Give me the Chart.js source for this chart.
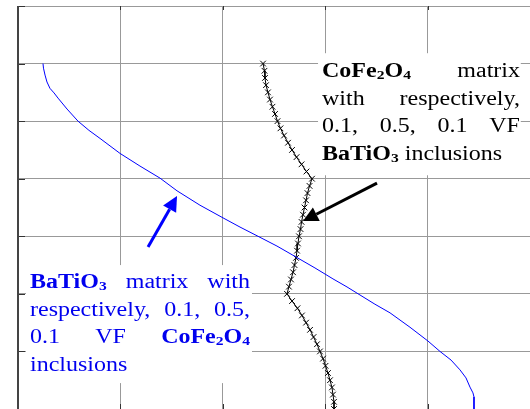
<!DOCTYPE html>
<html>
<head>
<meta charset="utf-8">
<script src="https://cdn.jsdelivr.net/npm/chart.js@4"></script>
<style>
  html, body { margin: 0; padding: 0; background: #fff; }
  #Chart { display: block; }
</style>
</head>
<body>
<canvas id="Chart" width="530" height="409"></canvas>
<script>
// position through the layered sample (grid units, bottom = 0) and the value
const blueDepth = [6.0, 5.92, 5.8, 5.68, 5.57, 5.49, 5.4, 5.21, 5.0, 4.84, 4.7, 4.44, 4.22, 4.01, 3.79,
  3.54, 3.32, 3.16, 3.0, 2.83, 2.64, 2.45, 2.26, 2.12, 1.98, 1.82, 1.67, 1.42, 1.18, 1.0, 0.85, 0.68,
  0.54, 0.38, 0.28, 0.21, 0.0];
const blueValue = [0.244, 0.249, 0.264, 0.283, 0.312, 0.352, 0.391, 0.479, 0.586, 0.693, 0.801, 0.996,
  1.191, 1.387, 1.553, 1.777, 2.002, 2.168, 2.344, 2.529, 2.715, 2.9, 3.076, 3.213, 3.34, 3.486, 3.633,
  3.828, 4.004, 4.121, 4.229, 4.316, 4.375, 4.414, 4.443, 4.453, 4.453];

const blackDepth = [6.0, 5.875, 5.75, 5.625, 5.5, 5.375, 5.25, 5.125, 5.0, 4.875, 4.75, 4.625, 4.5, 4.375,
  4.25, 4.125, 4.0, 3.875, 3.75, 3.625, 3.5, 3.375, 3.25, 3.125, 3.0, 2.875, 2.75, 2.625, 2.5, 2.375,
  2.25, 2.125, 2.0, 1.875, 1.75, 1.625, 1.5, 1.375, 1.25, 1.125, 1.0, 0.875, 0.75, 0.625, 0.5, 0.375,
  0.25, 0.125, 0.0];
const blackValue = [2.393, 2.407, 2.412, 2.422, 2.441, 2.461, 2.485, 2.51, 2.534, 2.563, 2.598, 2.637,
  2.676, 2.72, 2.769, 2.817, 2.871, 2.847, 2.827, 2.813, 2.798, 2.783, 2.769, 2.759, 2.744, 2.734, 2.725,
  2.715, 2.7, 2.686, 2.666, 2.646, 2.627, 2.676, 2.729, 2.773, 2.813, 2.852, 2.886, 2.92, 2.949, 2.979,
  3.003, 3.027, 3.047, 3.066, 3.076, 3.086, 3.086];

const xRange = [0, 5];
const yRange = [0, 7];

const blackNote = ["*CoFe_2O_4 matrix", "with respectively,", "0.1, 0.5, 0.1 VF", "*BaTiO_3 inclusions"];
const blueNote = ["*BaTiO_3 matrix with", "respectively, 0.1, 0.5,", "0.1 VF *CoFe_2O_4", "inclusions"];

// where the notes and arrows sit, in axis units
const notes = [
  { lines: blackNote, color: "#000", box: [2.93, 6.18, 4.91, 4.06], left: 2.969, right: 4.902, base: 5.764, step: 0.4775 },
  { lines: blueNote, color: "#0000ee", box: [0.078, 2.5, 2.285, 0.45], left: 0.117, right: 2.266, base: 2.101, step: 0.4775 }
];
const arrows = [
  { from: [1.27, 2.8125], to: [1.553, 3.698], color: "#0000ff" },
  { from: [3.506, 3.924], to: [2.783, 3.264], color: "#000" }
];

const SX = 1.2;
const segFont = seg => (seg.b ? "bold " : "") + (seg.s ? "13px" : "20px") + " 'Liberation Serif', 'Times New Roman', serif";

const parseWord = w => {
  const bold = w.startsWith("*");
  if (bold) w = w.slice(1);
  return w.split(/(_\d)/).filter(Boolean).map(p => p[0] === "_" ? { t: p.slice(1), b: bold, s: true } : { t: p, b: bold });
};

const wordWidth = (c, word) => word.reduce((w, seg) => {
  c.font = segFont(seg);
  return w + c.measureText(seg.t).width * SX;
}, 0);

const drawWord = (c, word, x, y) => {
  word.forEach(seg => {
    c.font = segFont(seg);
    const w = c.measureText(seg.t).width * SX;
    c.save();
    c.translate(x, y + (seg.s ? 2 : 0));
    c.scale(SX, 1);
    c.fillText(seg.t, 0, 0);
    c.restore();
    x += w;
  });
};

const drawLine = (c, text, left, right, y, justify) => {
  const words = text.split(" ").map(parseWord);
  const widths = words.map(w => wordWidth(c, w));
  const total = widths.reduce((a, b) => a + b, 0);
  let gap = 5 * SX;
  if (justify && words.length > 1) gap = (right - left - total) / (words.length - 1);
  let x = left;
  words.forEach((w, i) => {
    drawWord(c, w, x, y);
    x += widths[i] + gap;
  });
};

const drawArrow = (c, x0, y0, x1, y1, color) => {
  const ang = Math.atan2(y1 - y0, x1 - x0);
  const len = 15, half = 7.5;
  const bx = x1 - Math.cos(ang) * len, by = y1 - Math.sin(ang) * len;
  c.strokeStyle = color;
  c.fillStyle = color;
  c.lineWidth = 3;
  c.beginPath();
  c.moveTo(x0, y0);
  c.lineTo(bx, by);
  c.stroke();
  c.beginPath();
  c.moveTo(x1, y1);
  c.lineTo(bx - Math.sin(ang) * half, by + Math.cos(ang) * half);
  c.lineTo(bx + Math.sin(ang) * half, by - Math.cos(ang) * half);
  c.closePath();
  c.fill();
};

const overlay = {
  id: "overlay",
  beforeDatasetsDraw(chart) {
    const c = chart.ctx;
    const { x, y } = chart.scales;
    const area = chart.chartArea;
    c.save();
    // inner ticks and left axis
    c.strokeStyle = "#333";
    c.lineWidth = 1;
    for (let v = yRange[0]; v <= yRange[1]; v++) {
      const py = Math.round(y.getPixelForValue(v)) + 0.5;
      c.beginPath();
      c.moveTo(area.left, py);
      c.lineTo(area.left + 7, py);
      c.stroke();
    }
    for (let v = xRange[0]; v < xRange[1]; v++) {
      const px = Math.round(x.getPixelForValue(v)) + 0.5;
      c.beginPath();
      c.moveTo(px, area.top);
      c.lineTo(px, area.top + 4);
      c.moveTo(px, area.bottom);
      c.lineTo(px, area.bottom - 5);
      c.stroke();
    }
    c.strokeStyle = "#444";
    c.lineWidth = 2;
    c.beginPath();
    c.moveTo(area.left, area.top);
    c.lineTo(area.left, area.bottom);
    c.stroke();
    // notes
    notes.forEach(n => {
      const bx0 = x.getPixelForValue(n.box[0]), by0 = y.getPixelForValue(n.box[1]);
      const bx1 = x.getPixelForValue(n.box[2]), by1 = y.getPixelForValue(n.box[3]);
      c.fillStyle = "#fff";
      c.fillRect(bx0, by0, bx1 - bx0, by1 - by0);
      c.fillStyle = n.color;
      c.textBaseline = "alphabetic";
      const left = x.getPixelForValue(n.left), right = x.getPixelForValue(n.right);
      n.lines.forEach((line, i) => {
        const py = y.getPixelForValue(n.base - i * n.step);
        drawLine(c, line, left, right, py, i < n.lines.length - 1);
      });
    });
    c.restore();
  },
  afterDatasetsDraw(chart) {
    const c = chart.ctx;
    const { x, y } = chart.scales;
    c.save();
    arrows.forEach(a => drawArrow(c,
      x.getPixelForValue(a.from[0]), y.getPixelForValue(a.from[1]),
      x.getPixelForValue(a.to[0]), y.getPixelForValue(a.to[1]), a.color));
    c.restore();
  }
};

const toPoints = (xs, ys) => xs.map((v, i) => ({ x: v, y: ys[i] }));

const ctx = document.getElementById("Chart").getContext("2d");
const chart = new Chart(ctx, {
  type: "scatter",
  data: {
    datasets: [
      {
        label: "BaTiO3 matrix",
        data: toPoints(blueValue, blueDepth),
        showLine: true,
        borderColor: "#0000ff",
        borderWidth: 1,
        pointRadius: 0,
        tension: 0
      },
      {
        label: "CoFe2O4 matrix",
        data: toPoints(blackValue, blackDepth),
        showLine: true,
        borderColor: "#000",
        borderWidth: 1,
        pointStyle: "crossRot",
        pointRadius: 4,
        pointBorderColor: "#000",
        pointBorderWidth: 1,
        tension: 0
      }
    ]
  },
  options: {
    responsive: false,
    animation: false,
    devicePixelRatio: 1,
    layout: { autoPadding: false, padding: { left: 18, top: 6, right: 0, bottom: 0 } },
    plugins: { legend: { display: false }, tooltip: { enabled: false } },
    scales: {
      x: {
        type: "linear", min: xRange[0], max: xRange[1],
        ticks: { display: false, stepSize: 1 },
        grid: { color: "#999", drawTicks: false },
        border: { display: false },
        afterFit: s => { s.height = 0; s.paddingLeft = 0; s.paddingRight = 0; }
      },
      y: {
        type: "linear", min: yRange[0], max: yRange[1],
        ticks: { display: false, stepSize: 1 },
        grid: { color: "#999", drawTicks: false },
        border: { display: false },
        afterFit: s => { s.width = 0; s.paddingTop = 0; s.paddingBottom = 0; }
      }
    }
  },
  plugins: [overlay]
});
</script>
</body>
</html>
